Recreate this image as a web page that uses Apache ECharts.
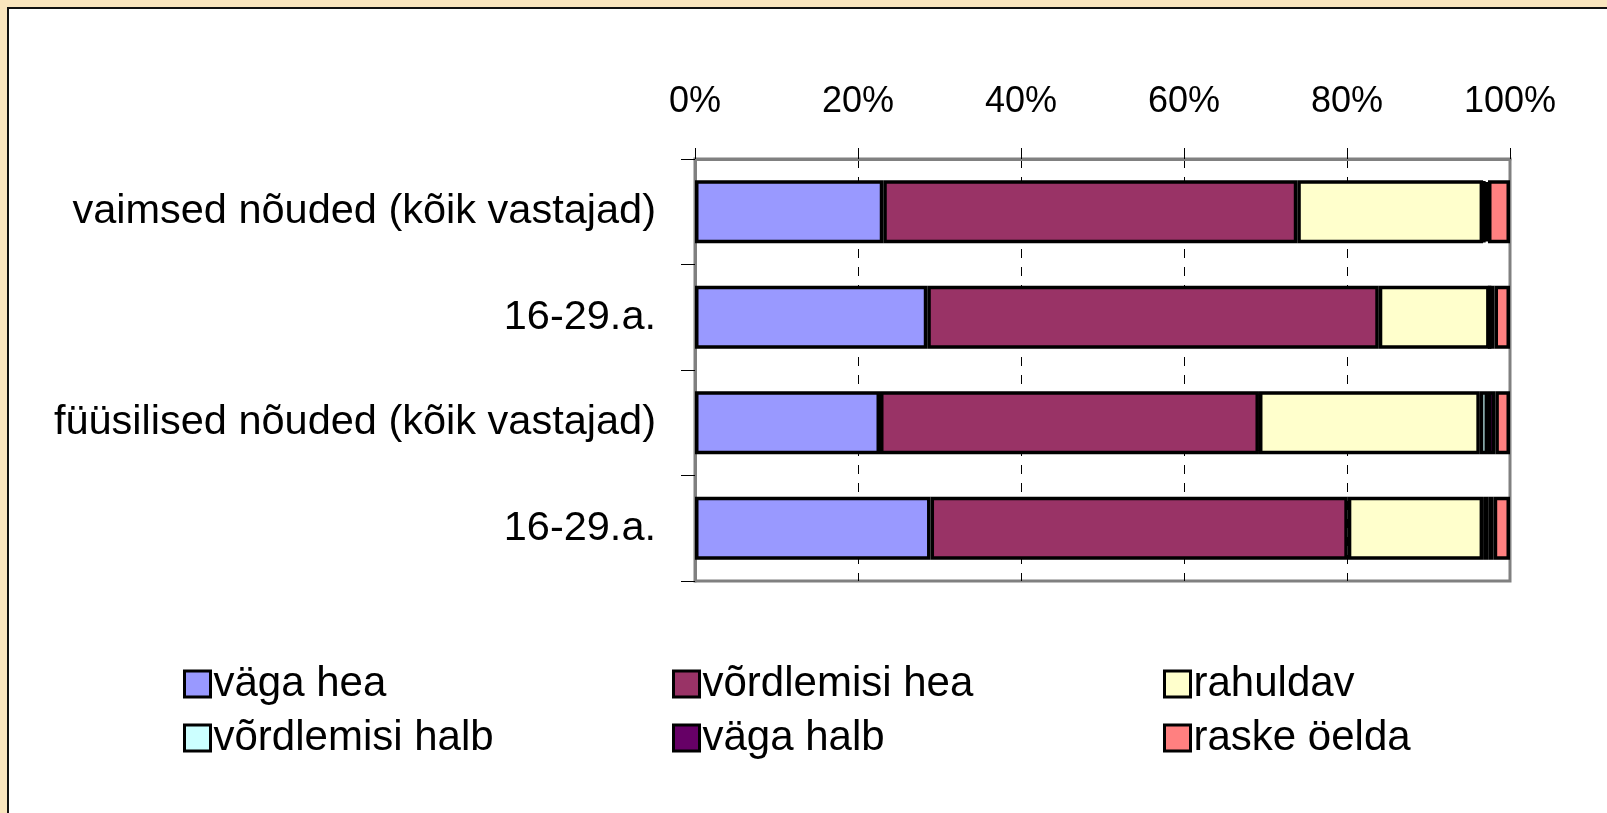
<!DOCTYPE html>
<html>
<head>
<meta charset="utf-8">
<script src="https://cdn.jsdelivr.net/npm/echarts@6/dist/echarts.min.js"></script>
<style>
  html, body { margin: 0; overflow: hidden; background: #F9E5BE; }
  #panel { position: absolute; left: 7px; top: 7px; right: 0; bottom: 0; background: #fff; border-left: 2px solid #111; border-top: 2px solid #111; }
  #chart { position: absolute; left: 0; top: 0; width: 1607px; height: 813px; }
</style>
</head>
<body>
<div id="panel"></div>
<div id="chart"></div>
<script>
// kategooriad (ülevalt alla)
var categories = ['vaimsed nõuded (kõik vastajad)', '16-29.a.', 'füüsilised nõuded (kõik vastajad)', '16-29.a.'];
var xTicks = [0, 20, 40, 60, 80, 100];

// hinnangud, %
var vagaHea = [23.1, 28.5, 22.7, 28.9];
var vordlHea = [50.8, 55.4, 46.5, 51.2];
var rahuldav = [22.8, 13.6, 27.1, 16.6];
var vordlHalb = [0.2, 0, 1.0, 0.7];
var vagaHalb = [0.4, 0.6, 0.9, 0.6];
var raskeOelda = [2.7, 1.9, 1.8, 2.0];

var font = 'Liberation Sans, Arial, sans-serif';

function bar(name, data, color) {
    return {
        name: name,
        type: 'bar',
        stack: 'kokku',
        barWidth: 63,
        data: data,
        itemStyle: { color: color, borderColor: '#000', borderWidth: 3.5 }
    };
}

function legendCol(left, names) {
    return {
        orient: 'vertical',
        left: left,
        top: 658,
        itemGap: 12,
        itemWidth: 26,
        itemHeight: 26,
        icon: 'rect',
        selectedMode: false,
        data: names,
        itemStyle: { borderColor: '#000', borderWidth: 3 },
        textStyle: { fontSize: 42, lineHeight: 41, color: '#000', fontFamily: font, padding: [0, 0, 0, -2] }
    };
}

var chart = echarts.init(document.getElementById('chart'));
chart.setOption({
    backgroundColor: 'transparent',
    animation: false,
    grid: {
        left: 695, right: 97, top: 159, bottom: 232,
        show: true, borderColor: '#808080', borderWidth: 3
    },
    xAxis: {
        type: 'value',
        position: 'top',
        min: xTicks[0],
        max: xTicks[xTicks.length - 1],
        interval: 20,
        axisLine: { show: true, lineStyle: { color: '#808080', width: 3 } },
        axisTick: { show: true, length: 11, lineStyle: { color: '#000', width: 1 } },
        axisLabel: { formatter: '{value}%', fontSize: 36, color: '#000', fontFamily: font, margin: 39 },
        splitLine: { show: true, showMinLine: false, showMaxLine: false, lineStyle: { color: '#000', width: 1, type: [9, 9] } }
    },
    yAxis: {
        type: 'category',
        inverse: true,
        data: categories,
        axisLine: { show: true, lineStyle: { color: '#808080', width: 3 } },
        axisTick: { show: true, length: 14, lineStyle: { color: '#000', width: 1 } },
        axisLabel: { fontSize: 41.5, color: '#000', fontFamily: font, margin: 39 },
        splitLine: { show: false }
    },
    legend: [
        legendCol(178, ['väga hea', 'võrdlemisi halb']),
        legendCol(667, ['võrdlemisi hea', 'väga halb']),
        legendCol(1158, ['rahuldav', 'raske öelda'])
    ],
    series: [
        bar('väga hea', vagaHea, '#9999FF'),
        bar('võrdlemisi hea', vordlHea, '#993366'),
        bar('rahuldav', rahuldav, '#FFFFCC'),
        bar('võrdlemisi halb', vordlHalb, '#CCFFFF'),
        bar('väga halb', vagaHalb, '#660066'),
        bar('raske öelda', raskeOelda, '#FF8080')
    ]
});
</script>
</body>
</html>
